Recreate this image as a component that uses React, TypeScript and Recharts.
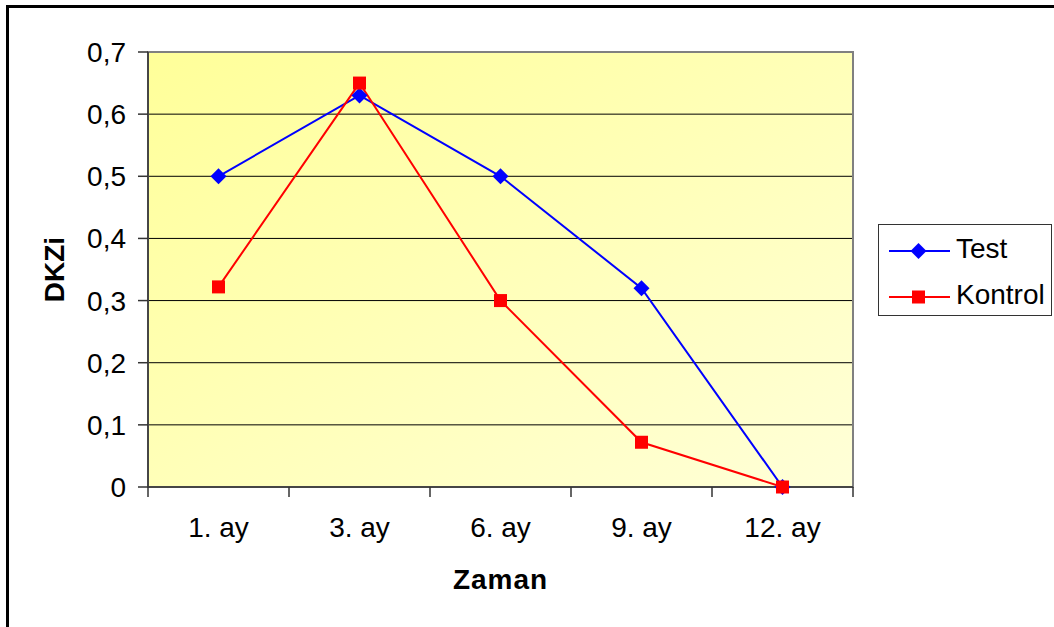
import { CartesianGrid, Label, Line, LineChart, ReferenceArea, XAxis, YAxis } from "recharts";

const CATEGORIES = ["1. ay", "3. ay", "6. ay", "9. ay", "12. ay"];
const TEST = [0.5, 0.63, 0.5, 0.32, 0];
const KONTROL = [0.322, 0.65, 0.3, 0.072, 0];
const Y_TICKS = [0, 0.1, 0.2, 0.3, 0.4, 0.5, 0.6, 0.7];
const X_BOUNDS = [0, 1, 2, 3, 4, 5];

const W = 1054;
const H = 627;
const MARGIN = { top: 52, right: 201, bottom: 40, left: 28 };
const Y_AXIS_W = 120;
const X_AXIS_H = 100;
// halbe Kategoriebreite, damit die Beschriftung mittig zwischen den Teilstrichen sitzt
const HALF_BAND = (W - MARGIN.left - Y_AXIS_W - MARGIN.right) / CATEGORIES.length / 2;

const FONT = "'Liberation Sans', Arial, sans-serif";
const FS = 28;

const data = CATEGORIES.map((name, i) => ({ pos: i + 0.5, name, test: TEST[i], kontrol: KONTROL[i] }));

const fmt = (v: number) => (v === 0 ? "0" : v.toFixed(1).replace(".", ","));

function Diamond(p: any) {
  const { cx, cy, index } = p;
  if (cx == null || cy == null) return <g key={`t-${index}`} />;
  const r = 8;
  return <polygon key={`t-${index}`} points={`${cx},${cy - r} ${cx + r},${cy} ${cx},${cy + r} ${cx - r},${cy}`} fill="#0000ff" />;
}

function Square(p: any) {
  const { cx, cy, index } = p;
  if (cx == null || cy == null) return <g key={`k-${index}`} />;
  return <rect key={`k-${index}`} x={cx - 6.5} y={cy - 6.5} width={13} height={13} fill="#ff0000" />;
}

function XTick(p: any) {
  const { x, y, payload } = p;
  const label = CATEGORIES[payload.value];
  if (!label) return <g />;
  return (
    <text x={x + HALF_BAND} y={y} dy="0.71em" textAnchor="middle" fontFamily={FONT} fontSize={FS} fill="#000">
      {label}
    </text>
  );
}

export default function App() {
  return (
    <div style={{ position: "fixed", left: 0, top: 0, width: W, height: H, overflow: "hidden", background: "#fff" }}>
      {/* Rahmen des Diagrammbereichs (rechts/unten abgeschnitten) */}
      <div style={{ position: "absolute", left: 6, top: 5, width: 1200, height: 800, border: "3px solid #000" }} />
      <div style={{ position: "absolute", left: 0, top: 0 }}>
        <LineChart width={W} height={H} data={data} margin={MARGIN}>
          <defs>
            <linearGradient id="bg" x1="0" y1="0" x2="1" y2="1">
              <stop offset="0%" stopColor="#ffff99" />
              <stop offset="100%" stopColor="#ffffd8" />
            </linearGradient>
          </defs>
          <CartesianGrid vertical={false} stroke="#000" strokeWidth={1} fill="url(#bg)" fillOpacity={1} />
          <ReferenceArea x1={0} x2={5} y1={0} y2={0.7} fill="none" stroke="#808080" strokeWidth={2} />
          <XAxis
            dataKey="pos"
            type="number"
            domain={[0, 5]}
            ticks={X_BOUNDS}
            interval={0}
            height={X_AXIS_H}
            tickSize={10}
            tickMargin={20}
            stroke="#333"
            strokeWidth={1.5}
            tick={<XTick />}
          >
            <Label
              content={(props: any) => {
                const vb = props.viewBox;
                return (
                  <text x={vb.x + vb.width / 2} y={vb.y + 102} textAnchor="middle" fontFamily={FONT} fontSize={FS} fontWeight="bold" letterSpacing={1} fill="#000">
                    Zaman
                  </text>
                );
              }}
            />
          </XAxis>
          <YAxis
            type="number"
            domain={[0, 0.7]}
            ticks={Y_TICKS}
            width={Y_AXIS_W}
            tickSize={10}
            tickMargin={12}
            tickFormatter={fmt}
            stroke="#333"
            strokeWidth={1.5}
            tick={{ fontFamily: FONT, fontSize: FS, fill: "#000" }}
          >
            <Label
              content={(props: any) => {
                const vb = props.viewBox;
                const x = vb.x + 36;
                const y = vb.y + vb.height / 2;
                return (
                  <text x={x} y={y} transform={`rotate(-90, ${x}, ${y})`} textAnchor="middle" fontFamily={FONT} fontSize={FS} fontWeight="bold" fill="#000">
                    DKZi
                  </text>
                );
              }}
            />
          </YAxis>
          <Line dataKey="test" stroke="#0000ff" strokeWidth={2} dot={false} activeDot={false} isAnimationActive={false} />
          <Line dataKey="kontrol" stroke="#ff0000" strokeWidth={2} dot={false} activeDot={false} isAnimationActive={false} />
          <Line dataKey="test" stroke="none" dot={Diamond} activeDot={false} isAnimationActive={false} />
          <Line dataKey="kontrol" stroke="none" dot={Square} activeDot={false} isAnimationActive={false} />
        </LineChart>
      </div>
      {/* Legende */}
      <div
        style={{
          position: "absolute",
          left: 878,
          top: 224,
          width: 172,
          height: 90,
          border: "1.5px solid #333",
          background: "#fff",
          fontFamily: FONT,
          fontSize: FS,
        }}
      >
        <LegendRow top={8} color="#0000ff" label="Test" marker="diamond" />
        <LegendRow top={54} color="#ff0000" label="Kontrol" marker="square" />
      </div>
    </div>
  );
}

function LegendRow({ top, color, label, marker }: { top: number; color: string; label: string; marker: "diamond" | "square" }) {
  return (
    <div style={{ position: "absolute", left: 0, top, height: 32, width: 172 }}>
      <svg width={64} height={32} style={{ position: "absolute", left: 10, top: 2 }}>
        <line x1={0} y1={16} x2={61} y2={16} stroke={color} strokeWidth={2} />
        {marker === "diamond" ? (
          <polygon points="29.5,8 37.5,16 29.5,24 21.5,16" fill={color} />
        ) : (
          <rect x={23} y={9.5} width={13} height={13} fill={color} />
        )}
      </svg>
      <span style={{ position: "absolute", left: 77, top: 0, lineHeight: "32px", color: "#000" }}>{label}</span>
    </div>
  );
}
